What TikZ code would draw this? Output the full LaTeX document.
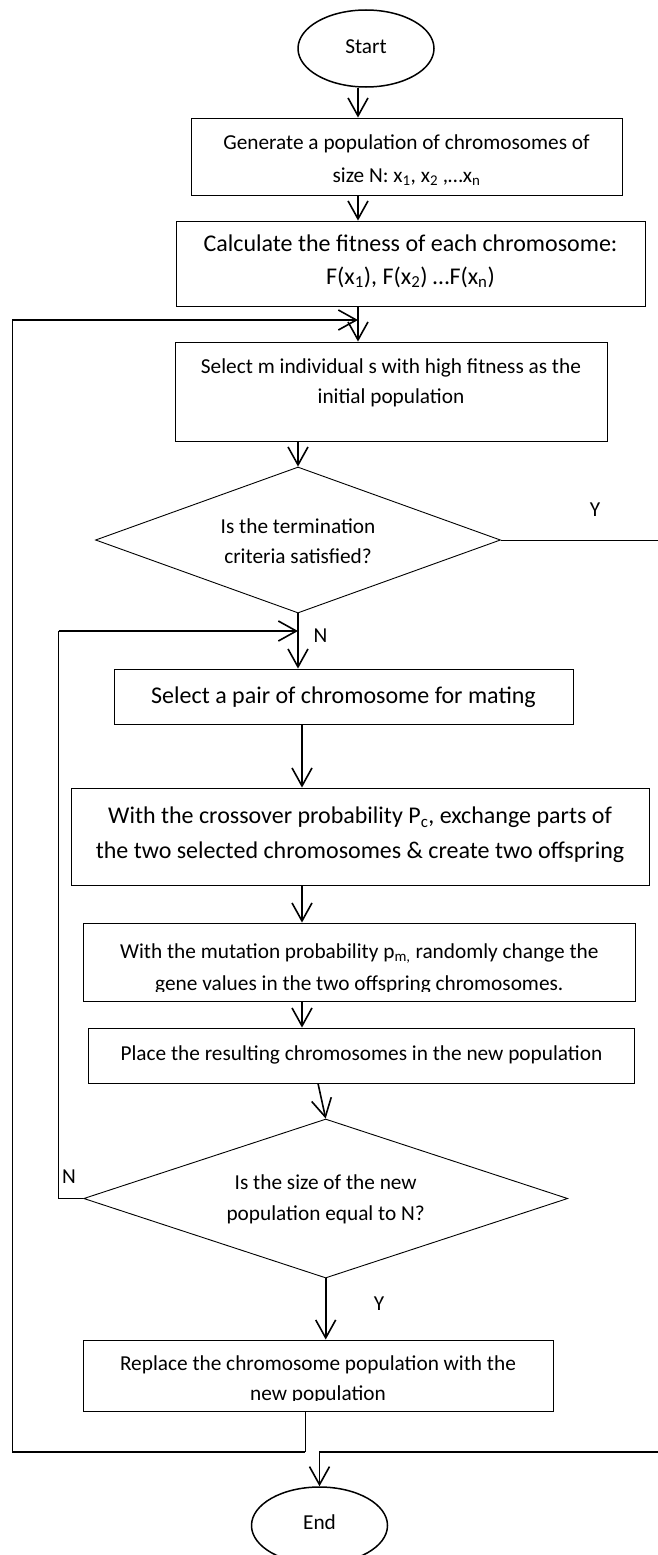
\documentclass[tikz,border=0pt]{standalone}
\usepackage{fontspec}
\setmainfont{Carlito}
\usetikzlibrary{arrows.meta,shapes.geometric}

\begin{document}
\begin{tikzpicture}[x=1pt,y=-1pt,
  box/.style={draw, rectangle, line width=0.9pt, inner sep=0pt},
  term/.style={draw, ellipse, line width=1.5pt, inner sep=0pt,
               minimum width=136pt, minimum height=77pt},
  decide/.style={draw, diamond, line width=0.9pt, inner sep=0pt},
  txt/.style={anchor=base, inner sep=0pt, font=\fontsize{21.3}{25}\selectfont},
  big/.style={anchor=base, inner sep=0pt, font=\fontsize{24}{28}\selectfont},
  arr/.style={line width=1.6pt, -{Straight Barb[length=18pt,width=20pt]}},
  flow/.style={line width=1.5pt},
  fine/.style={line width=0.9pt}]

\useasboundingbox (0,0) rectangle (657,1555);

% ---- shapes ----
\node[term] (start) at (366,48.5) {};
\node[box, minimum width=431pt, minimum height=77pt] (box1) at (406.5,156.5) {};
\node[box, minimum width=469pt, minimum height=85pt] (box2) at (410.5,263.5) {};
\node[box, minimum width=432pt, minimum height=99pt] (box3) at (391,391.5) {};
\node[decide, minimum width=405pt, minimum height=146pt] (dia1) at (298,540) {};
\node[box, minimum width=459pt, minimum height=55pt] (box4) at (343.5,696.5) {};
\node[box, minimum width=578pt, minimum height=97pt] (box5) at (360,836.5) {};
\node[box, minimum width=552.5pt, minimum height=78pt] (box6) at (359.25,962) {};
\node[box, minimum width=546.7pt, minimum height=55pt] (box7) at (361.35,1055.5) {};
\node[decide, minimum width=484pt, minimum height=159pt] (dia2) at (325.7,1198.5) {};
\node[box, minimum width=470pt, minimum height=71pt] (box8) at (318,1375.5) {};
\node[term] (end) at (319.5,1525.5) {};

% ---- texts ----
\node[txt] (startT) at (366,53.3) {Start};
\node[txt] (b1a) at (406.5,149.5) {Generate a population of chromosomes of};
\node[txt] (b1b) at (406.5,182.5) {size N: x\textsubscript{1}, x\textsubscript{2} ,…x\textsubscript{n}};
\node[big] (b2a) at (410.5,251) {Calculate the fitness of each chromosome:};
\node[big] (b2b) at (410.5,284) {F(x\textsubscript{1}), F(x\textsubscript{2}) …F(x\textsubscript{n})};
\node[txt] (b3a) at (391,373) {Select m individual s with high fitness as the};
\node[txt] (b3b) at (391,403) {initial population};
\node[txt] (d1a) at (298,533.3) {Is the termination};
\node[txt] (d1b) at (298,563.3) {criteria satisfied?};
\node[big] (b4a) at (343.5,703) {Select a pair of chromosome for mating};
\node[big] (b5a) at (360,823.3) {With the crossover probability P\textsubscript{c}, exchange parts of};
\node[big] (b5b) at (360,858.3) {the two selected chromosomes \& create two offspring};
\node[txt] (b6a) at (359.3,958.3) {With the mutation probability p\textsubscript{m,} randomly change the};
\begin{scope}
  \clip (0,900) rectangle (657,991.7);
  \node[txt] (b6b) at (359.3,990) {gene values in the two offspring chromosomes.};
\end{scope}
\node[txt] (b7a) at (361.4,1060) {Place the resulting chromosomes in the new population};
\node[txt] (d2a) at (325.7,1189.3) {Is the size of the new};
\node[txt] (d2b) at (325.7,1220) {population equal to N?};
\node[txt] (b8a) at (318,1370) {Replace the chromosome population with the};
\begin{scope}
  \clip (0,1350) rectangle (657,1400.7);
  \node[txt] (b8b) at (318,1400) {new population};
\end{scope}
\node[txt] (endT) at (319.5,1529) {End};

% branch labels
\node[txt] (yes1) at (595,516.7) {Y};
\node[txt] (no1) at (320.5,642.7) {N};
\node[txt] (no2) at (69,1183.3) {N};
\node[txt] (yes2) at (379,1310) {Y};

% ---- routing points ----
\coordinate (colA) at (358,0);
\coordinate (colB) at (302,0);
\coordinate (colC) at (318,0);
\coordinate (colD) at (305,0);
\coordinate (edge) at (662,0);
\coordinate (bot) at (0,1452);
\coordinate (j1) at (358,320);
\coordinate (j2) at (298,631);
\coordinate (outerL) at (12.3,320);
\coordinate (innerL) at (58.5,631);

% ---- main flow ----
\draw[arr] (start.south -| colA) -- (box1.north -| colA);
\draw[arr] (box1.south -| colA) -- (box2.north -| colA);
\draw[arr] (box2.south -| colA) -- (box3.north -| colA);
\draw[arr] (box3.south -| dia1.north) -- (dia1.north);
\draw[arr] (dia1.south) -- (box4.north -| dia1.south);
\draw[arr] (box4.south -| colB) -- (box5.north -| colB);
\draw[arr] (box5.south -| colB) -- (box6.north -| colB);
\draw[arr] (box6.south -| colB) -- (box7.north -| colB);
\draw[arr] (box7.south -| colC) -- (dia2.north);
\draw[arr] (dia2.south) -- (box8.north -| dia2.south);

% ---- termination satisfied: on to End ----
\draw[fine] (dia1.east) -- (dia1.east -| edge) -- (edge |- bot);
\draw[arr] (edge |- bot) -| (end.north);

% ---- outer loop back to selection ----
\draw[fine] (box8.south -| colD) -- (colD |- bot);
\draw[flow] (colD |- bot) -| (outerL);
\draw[arr] (outerL) -- (j1);

% ---- inner loop back to mating ----
\draw[fine] (dia2.west) -| (innerL);
\draw[arr] (innerL) -- (j2);

\end{tikzpicture}
\end{document}
